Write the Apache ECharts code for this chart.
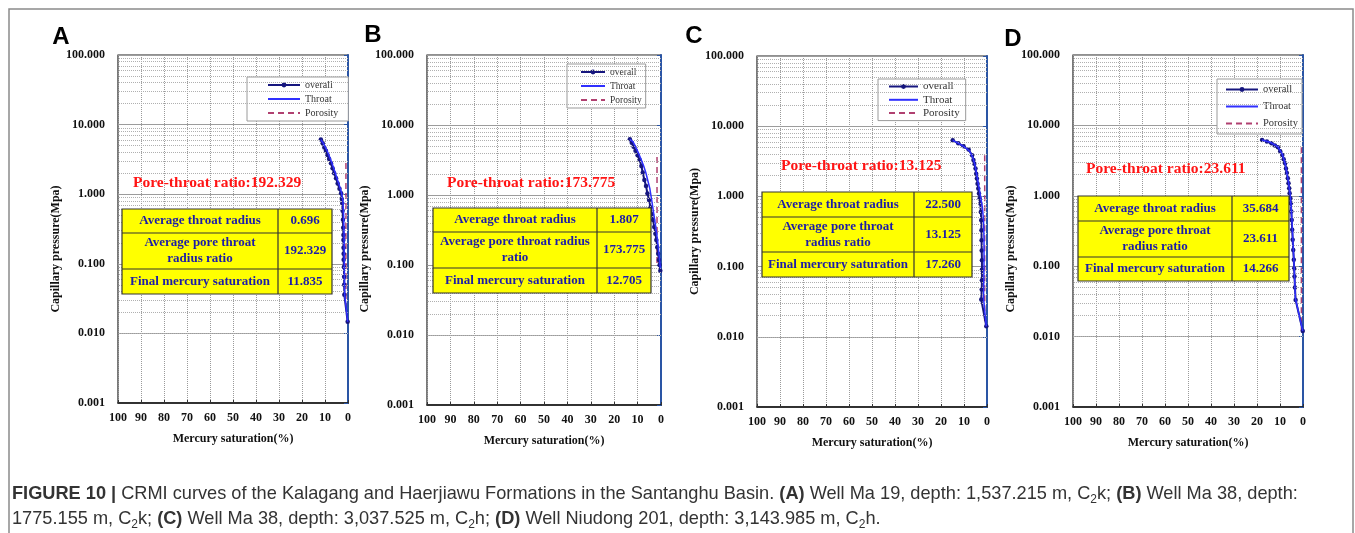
<!DOCTYPE html>
<html><head><meta charset="utf-8">
<script src="https://cdn.jsdelivr.net/npm/echarts@6/dist/echarts.min.js"></script>
<style>html,body{margin:0;padding:0;background:#fff}#c{width:1355px;height:533px}</style>
</head><body><div id="c"></div>
<script>
// ---------------- DATA ----------------
const panelLetters = ['A', 'B', 'C', 'D'];
const legendNames = ['overall', 'Throat', 'Porosity'];
const poreThroatRatio = ['192.329', '173.775', '13.125', '23.611'];
const tableLabelsA = ['Average throat radius', 'Average pore throat\nradius ratio', 'Final mercury saturation'];
const tableLabelsB = ['Average throat radius', 'Average pore throat radius\nratio', 'Final mercury saturation'];
const tableLabelsC = ['Average throat radius', 'Average pore throat\nradius ratio', 'Final mercury saturation'];
const tableLabelsD = ['Average throat radius', 'Average pore throat\nradius ratio', 'Final mercury saturation'];
const tableValuesA = ['0.696', '192.329', '11.835'];
const tableValuesB = ['1.807', '173.775', '12.705'];
const tableValuesC = ['22.500', '13.125', '17.260'];
const tableValuesD = ['35.684', '23.611', '14.266'];
const xTickValues = [100, 90, 80, 70, 60, 50, 40, 30, 20, 10, 0];
const yTickLabels = ['0.001', '0.010', '0.100', '1.000', '10.000', '100.000'];
const yDecades = [0.001, 0.01, 0.1, 1, 10];
const yMinorMultipliers = [2, 3, 4, 5, 6, 7, 8, 9];

// [mercury saturation %, capillary pressure MPa]
const overallA = [[11.8,6.1],[11.0,5.4],[10.3,4.7],[9.6,4.2],[8.9,3.66],[8.2,3.2],[7.4,2.78],[6.7,2.35],[6.0,2.0],[5.2,1.7],[4.5,1.43],[3.7,1.2],[3.0,1.03],[2.7,0.85],[2.5,0.74],[2.35,0.58],[2.2,0.43],[2.1,0.33],[2.0,0.26],[2.0,0.22],[1.95,0.17],[1.9,0.14],[1.9,0.114],[1.8,0.09],[1.7,0.065],[1.65,0.05],[1.6,0.036],[0.15,0.0147]];
const throatA = [[11.8,6.1],[10.8,5.4],[9.8,4.7],[8.8,4.0],[7.8,3.3],[6.8,2.7],[5.8,2.15],[4.8,1.7],[3.8,1.35],[2.8,1.05],[2.2,0.8],[1.9,0.5],[1.7,0.25],[1.6,0.1],[1.5,0.05],[1.4,0.035],[0.15,0.0147]];
const porosityA = [[0.9,2.8],[0.9,0.02]];

const overallB = [[13.3,6.25],[12.5,5.6],[11.7,4.9],[10.9,4.3],[10.0,3.7],[9.1,3.16],[8.4,2.6],[7.8,2.1],[7.1,1.64],[6.4,1.35],[5.8,1.05],[5.1,0.85],[4.5,0.67],[3.9,0.53],[3.4,0.44],[2.9,0.35],[2.4,0.28],[2.0,0.228],[1.6,0.18],[1.2,0.145],[0.9,0.118],[0.6,0.1],[0.3,0.083]];
const throatB = [[13.3,6.25],[12.0,5.8],[11.0,5.0],[9.8,4.1],[8.6,3.3],[7.4,2.6],[6.5,2.1],[5.7,1.64],[4.8,1.25],[4.0,0.85],[3.3,0.6],[2.7,0.44],[2.1,0.32],[1.5,0.228],[1.0,0.16],[0.6,0.118],[0.3,0.09]];
const porosityB = [[1.7,3.5],[1.7,0.1]];

const overallC = [[14.9,6.3],[12.5,5.7],[10.2,5.17],[8.0,4.64],[6.5,3.85],[5.9,3.3],[5.5,2.93],[5.0,2.5],[4.7,2.11],[4.4,1.8],[4.1,1.52],[3.8,1.3],[3.5,1.1],[3.2,0.93],[2.9,0.79],[2.7,0.6],[2.5,0.457],[2.4,0.33],[2.35,0.237],[2.3,0.17],[2.2,0.123],[2.2,0.09],[2.2,0.064],[2.3,0.047],[2.5,0.034],[0.3,0.0141]];
const throatC = [[14.9,6.3],[12.0,5.6],[9.5,5.0],[7.5,4.4],[6.2,3.6],[5.2,2.8],[4.4,2.0],[3.6,1.4],[2.8,1.0],[2.0,0.7],[1.5,0.45],[1.3,0.25],[1.3,0.12],[1.4,0.06],[1.5,0.035],[0.3,0.0141]];
const porosityC = [[1.0,3.85],[1.0,0.015]];

const overallD = [[17.8,6.22],[15.7,5.9],[13.7,5.58],[12.2,5.2],[10.9,4.9],[9.9,4.3],[9.0,3.81],[8.4,3.3],[7.8,2.9],[7.4,2.45],[7.0,2.1],[6.6,1.78],[6.3,1.51],[6.0,1.28],[5.8,1.09],[5.5,0.92],[5.3,0.785],[5.1,0.6],[4.9,0.455],[4.7,0.33],[4.5,0.237],[4.25,0.17],[4.0,0.123],[3.85,0.093],[3.7,0.0715],[3.5,0.05],[3.2,0.033],[0.1,0.012]];
const throatD = [[17.8,6.22],[14.0,5.7],[11.0,5.0],[9.0,3.9],[7.8,2.9],[7.0,2.1],[6.2,1.5],[5.7,1.1],[5.2,0.75],[4.8,0.45],[4.4,0.24],[4.0,0.13],[3.7,0.075],[3.3,0.035],[0.1,0.012]];
const porosityD = [[0.7,4.9],[0.7,0.012]];

const overallSets = [overallA, overallB, overallC, overallD];
const throatSets = [throatA, throatB, throatC, throatD];
const porositySets = [porosityA, porosityB, porosityC, porosityD];
const tableLabelSets = [tableLabelsA, tableLabelsB, tableLabelsC, tableLabelsD];
const tableValueSets = [tableValuesA, tableValuesB, tableValuesC, tableValuesD];

// ---------------- LAYOUT ----------------
const layout = [
  { grid:{left:118,top:55,width:230,height:348}, yNameGap:53, yNameShift:40, letter:[61,37], red:[133,183],
    table:{x:122,col:278,r:[209,233,269,294],right:332},
    legend:{left:247,top:77,itemWidth:32,row:14,fontSize:10,padding:[3,10,3,20]} },
  { grid:{left:427,top:55,width:234,height:350}, yNameGap:48, yNameShift:38, letter:[373,35], red:[447,183],
    table:{x:433,col:597,r:[208,232,268,293],right:651},
    legend:{left:567,top:64,itemWidth:24,row:14,fontSize:9.5,padding:[3,4,3,13]} },
  { grid:{left:757,top:56,width:230,height:351}, yNameGap:53, yNameShift:0, letter:[694,36], red:[781,166],
    table:{x:762,col:914,r:[192,217,252,277],right:972},
    legend:{left:878,top:79,itemWidth:29,row:12.3,fontSize:11,padding:[2,6,2,10]} },
  { grid:{left:1073,top:55,width:230,height:352}, yNameGap:53, yNameShift:36, letter:[1013,39], red:[1086,169],
    table:{x:1078,col:1232,r:[196,221,257,281],right:1289},
    legend:{left:1217,top:79,itemWidth:32,row:16,fontSize:10.5,padding:[5,4,5,8]} }
];

const SERIF = '"Liberation Serif", "Times New Roman", serif';
const SANS = '"Liberation Sans", Arial, sans-serif';
const NAVY = '#16167e';
const THROAT = '#2f2fff';
const PORO = '#b04070';

const minorLines = [];
yDecades.forEach(d => yMinorMultipliers.forEach(m => minorLines.push({ yAxis: d * m })));

const grids = [], xAxes = [], yAxes = [], series = [], legends = [], graphics = [];

layout.forEach((L, i) => {
  grids.push(Object.assign({ show: true, borderColor: '#222', borderWidth: 1.2, backgroundColor: '#fff', outerBoundsMode: 'none', containLabel: false }, L.grid));
  xAxes.push({
    gridIndex: i, type: 'value', min: 0, max: 100, interval: 10, inverse: true,
    name: 'Mercury saturation(%)', nameLocation: 'middle', nameGap: 30,
    nameTextStyle: { fontFamily: SERIF, fontWeight: 'bold', fontSize: 12, color: '#111' },
    axisLine: { show: true, lineStyle: { color: '#111', width: 1.5 } },
    axisTick: { show: true, length: 3, inside: true, lineStyle: { color: '#333' } },
    axisLabel: { fontFamily: SERIF, fontWeight: 'bold', fontSize: 12, color: '#111', margin: 9,
      formatter: v => xTickValues.includes(v) ? String(v) : '' },
    splitLine: { show: true, lineStyle: { type: 'dotted', color: '#9a9a9a', width: 1 } }
  });
  yAxes.push({
    gridIndex: i, type: 'log', logBase: 10, min: 0.001, max: 100, splitNumber: 5,
    name: 'Capillary pressure(Mpa)', nameLocation: 'middle', nameGap: L.yNameGap,
    nameTextStyle: { fontFamily: SERIF, fontWeight: 'bold', fontSize: 12, color: '#111', padding: [0, L.yNameShift, 0, 0] },
    axisLine: { show: true, lineStyle: { color: '#2a55a5', width: 2 } },
    axisTick: { show: true, length: 4, lineStyle: { color: '#2a55a5' } },
    axisLabel: { fontFamily: SERIF, fontWeight: 'bold', fontSize: 12, color: '#111', margin: 13,
      formatter: v => { const s = Number(v).toFixed(3); return yTickLabels.includes(s) ? s : ''; } },
    splitLine: { show: true, lineStyle: { type: 'solid', color: '#9c9c9c', width: 1 } }
  });
  series.push({
    type: 'line', name: 'grid', xAxisIndex: i, yAxisIndex: i, data: [[50, 1]], symbol: 'none',
    lineStyle: { opacity: 0 }, silent: true, z: 1,
    markLine: { silent: true, symbol: ['none', 'none'], animation: false, label: { show: false },
      lineStyle: { type: 'dotted', color: '#b0b0b0', width: 1 }, data: minorLines }
  });
  series.push({
    type: 'line', name: 'Porosity', xAxisIndex: i, yAxisIndex: i, data: porositySets[i],
    showSymbol: false, symbol: 'none', z: 3, color: PORO,
    lineStyle: { color: PORO, width: 1.5, type: [6, 4] }
  });
  series.push({
    type: 'line', name: 'overall', xAxisIndex: i, yAxisIndex: i, data: overallSets[i],
    symbol: 'circle', symbolSize: 4.5, showSymbol: true, z: 4, color: NAVY,
    itemStyle: { color: NAVY }, lineStyle: { color: NAVY, width: 2 }
  });
  series.push({
    type: 'line', name: 'Throat', xAxisIndex: i, yAxisIndex: i, data: throatSets[i],
    showSymbol: false, symbol: 'none', z: 5, color: THROAT,
    lineStyle: { color: THROAT, width: 1.5 }
  });
  const lg = L.legend;
  legends.push({
    data: [
      { name: legendNames[0] },
      { name: legendNames[1], itemStyle: { opacity: 0 } },
      { name: legendNames[2], itemStyle: { opacity: 0 } }
    ],
    orient: 'vertical', left: lg.left, top: lg.top,
    itemWidth: lg.itemWidth, itemHeight: 6, itemGap: lg.row - 10, padding: lg.padding,
    backgroundColor: '#fff', borderColor: '#9a9a9a', borderWidth: 1, borderRadius: 0,
    selectedMode: false,
    textStyle: { fontFamily: SERIF, fontSize: lg.fontSize, color: '#333', lineHeight: 10 }
  });

  // panel letter
  graphics.push({ type: 'text', x: L.letter[0], y: L.letter[1], silent: true,
    style: { text: panelLetters[i], fontFamily: SANS, fontWeight: 'bold', fontSize: 24, fill: '#000',
      align: 'center', verticalAlign: 'middle', textAlign: 'center', textVerticalAlign: 'middle' } });
  // red label
  graphics.push({ type: 'text', x: L.red[0], y: L.red[1], silent: true, z: 10,
    style: { text: 'Pore-throat ratio:' + poreThroatRatio[i], fontFamily: SERIF, fontWeight: 'bold', fontSize: 15.5, fill: '#ff1414',
      align: 'left', verticalAlign: 'middle', textAlign: 'left', textVerticalAlign: 'middle' } });
  // table
  const T = L.table;
  graphics.push({ type: 'rect', silent: true, z: 10,
    shape: { x: T.x, y: T.r[0], width: T.right - T.x, height: T.r[3] - T.r[0] },
    style: { fill: '#ffff00', stroke: '#333', lineWidth: 1.2 } });
  graphics.push({ type: 'line', silent: true, z: 11, shape: { x1: T.col, y1: T.r[0], x2: T.col, y2: T.r[3] },
    style: { stroke: '#333', lineWidth: 1.2 } });
  [1, 2].forEach(k => graphics.push({ type: 'line', silent: true, z: 11,
    shape: { x1: T.x, y1: T.r[k], x2: T.right, y2: T.r[k] }, style: { stroke: '#333', lineWidth: 1.2 } }));
  for (let k = 0; k < 3; k++) {
    const cy = (T.r[k] + T.r[k + 1]) / 2;
    graphics.push({ type: 'text', x: (T.x + T.col) / 2, y: cy, silent: true, z: 12,
      style: { text: tableLabelSets[i][k], fontFamily: SERIF, fontWeight: 'bold', fontSize: 13, fill: '#1c1ca8', lineHeight: 16,
        align: 'center', verticalAlign: 'middle', textAlign: 'center', textVerticalAlign: 'middle' } });
    graphics.push({ type: 'text', x: (T.col + T.right) / 2, y: cy, silent: true, z: 12,
      style: { text: tableValueSets[i][k], fontFamily: SERIF, fontWeight: 'bold', fontSize: 13, fill: '#1c1ca8',
        align: 'center', verticalAlign: 'middle', textAlign: 'center', textVerticalAlign: 'middle' } });
  }
});

// outer frame
graphics.push({ type: 'rect', silent: true, z: 0, shape: { x: 9, y: 9, width: 1344, height: 540 },
  style: { fill: 'none', stroke: '#8a8a8a', lineWidth: 1.5 } });

const cap = { fontFamily: SANS, fontSize: 18.2, color: '#333', lineHeight: 25 };
const captionText =
  '{b|FIGURE 10 |} CRMI curves of the Kalagang and Haerjiawu Formations in the Santanghu Basin. {b|(A)} Well Ma 19, depth: 1,537.215 m, C{s|2}k; {b|(B)} Well Ma 38, depth:\n' +
  '1775.155 m, C{s|2}k; {b|(C)} Well Ma 38, depth: 3,037.525 m, C{s|2}h; {b|(D)} Well Niudong 201, depth: 3,143.985 m, C{s|2}h.';

const chart = echarts.init(document.getElementById('c'), null, { renderer: 'canvas' });
chart.setOption({
  animation: false,
  backgroundColor: '#fff',
  title: { text: captionText, left: 12, top: 481, padding: 0,
    textStyle: Object.assign({ fontWeight: 'normal', rich: {
      b: Object.assign({ fontWeight: 'bold' }, cap),
      s: { fontFamily: SANS, fontSize: 12, color: '#333', lineHeight: 19, verticalAlign: 'bottom' }
    } }, cap) },
  grid: grids, xAxis: xAxes, yAxis: yAxes, series: series, legend: legends, graphic: graphics
});
</script></body></html>
